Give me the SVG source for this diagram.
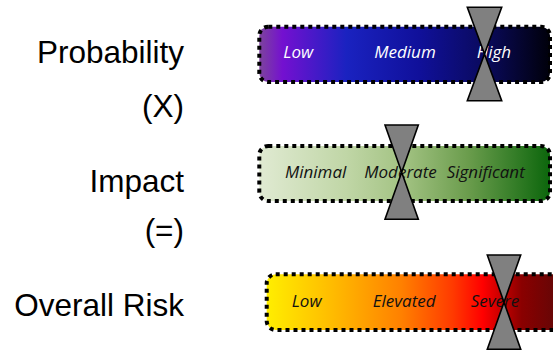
<svg xmlns="http://www.w3.org/2000/svg" width="553" height="352" viewBox="0 0 553 352">
<defs>
<linearGradient id="gProb" x1="0" y1="0" x2="1" y2="0">
<stop offset="0" stop-color="#7d449c"/>
<stop offset="0.08" stop-color="#7410d0"/>
<stop offset="0.3" stop-color="#1a22c0"/>
<stop offset="0.55" stop-color="#10109a"/>
<stop offset="0.78" stop-color="#0a0a5c"/>
<stop offset="1" stop-color="#00000a"/>
</linearGradient>
<linearGradient id="gImp" x1="0" y1="0" x2="1" y2="0">
<stop offset="0" stop-color="#e0ead2"/>
<stop offset="0.3" stop-color="#c0d6a6"/>
<stop offset="0.5" stop-color="#a2c282"/>
<stop offset="0.72" stop-color="#6a9c4c"/>
<stop offset="1" stop-color="#0c660c"/>
</linearGradient>
<linearGradient id="gRisk" x1="0" y1="0" x2="1" y2="0">
<stop offset="0" stop-color="#ffee00"/>
<stop offset="0.22" stop-color="#ffbb00"/>
<stop offset="0.45" stop-color="#ff8000"/>
<stop offset="0.62" stop-color="#ff3a00"/>
<stop offset="0.72" stop-color="#ff0000"/>
<stop offset="0.85" stop-color="#8a0000"/>
<stop offset="1" stop-color="#5a0808"/>
</linearGradient>
</defs>
<style>
.lbl{font-family:"Liberation Sans",Arial,sans-serif;font-size:31.5px;fill:#000;text-anchor:end}
.bar{stroke:#000;stroke-width:4;stroke-dasharray:4 4}
.t{font-family:"Open Sans","Noto Sans",sans-serif;font-style:italic;font-size:17px}
.tw{fill:#ffffff}
.tb{fill:#111111}
.hg{fill:#808080;stroke:#000;stroke-width:1.6;stroke-linejoin:miter}
</style>
<g id="labels">
<text class="lbl" x="184" y="62.5">Probability</text>
<text class="lbl" x="184" y="117">(X)</text>
<text class="lbl" x="184" y="192">Impact</text>
<text class="lbl" x="184" y="241">(=)</text>
<text class="lbl" x="184" y="315.5">Overall Risk</text>
</g>
<g id="probability">
<rect class="bar" x="259.3" y="26.7" width="290.7" height="55.3" rx="9" fill="url(#gProb)"/>
<text class="t tw" x="283.3" y="58.3">Low</text>
<text class="t tw" x="374.3" y="58.3">Medium</text>
<text class="t tw" x="476.7" y="58.3">High</text>
<polygon class="hg" points="467.3,7.3 501.7,7.3 484.5,54 501.7,100.7 467.3,100.7 484.5,54"/>
</g>
<g id="impact">
<rect class="bar" x="259.3" y="146" width="290.7" height="55" rx="9" fill="url(#gImp)"/>
<text class="t tb" x="285" y="178.3">Minimal</text>
<text class="t tb" x="364.3" y="178.3">Moderate</text>
<text class="t tb" x="446.7" y="178.3">Significant</text>
<polygon class="hg" points="385,125 418.3,125 401.7,172.2 418.3,219.3 385,219.3 401.7,172.2"/>
</g>
<g id="overall-risk">
<rect class="bar" x="266.7" y="274.3" width="300" height="55.7" rx="9" fill="url(#gRisk)"/>
<text class="t tb" x="291.7" y="306.7">Low</text>
<text class="t tb" x="372.7" y="306.7">Elevated</text>
<text class="t tb" x="470.7" y="306.7">Severe</text>
<polygon class="hg" points="487.3,255 520.7,255 504,302.2 520.7,349.3 487.3,349.3 504,302.2"/>
</g>
</svg>
